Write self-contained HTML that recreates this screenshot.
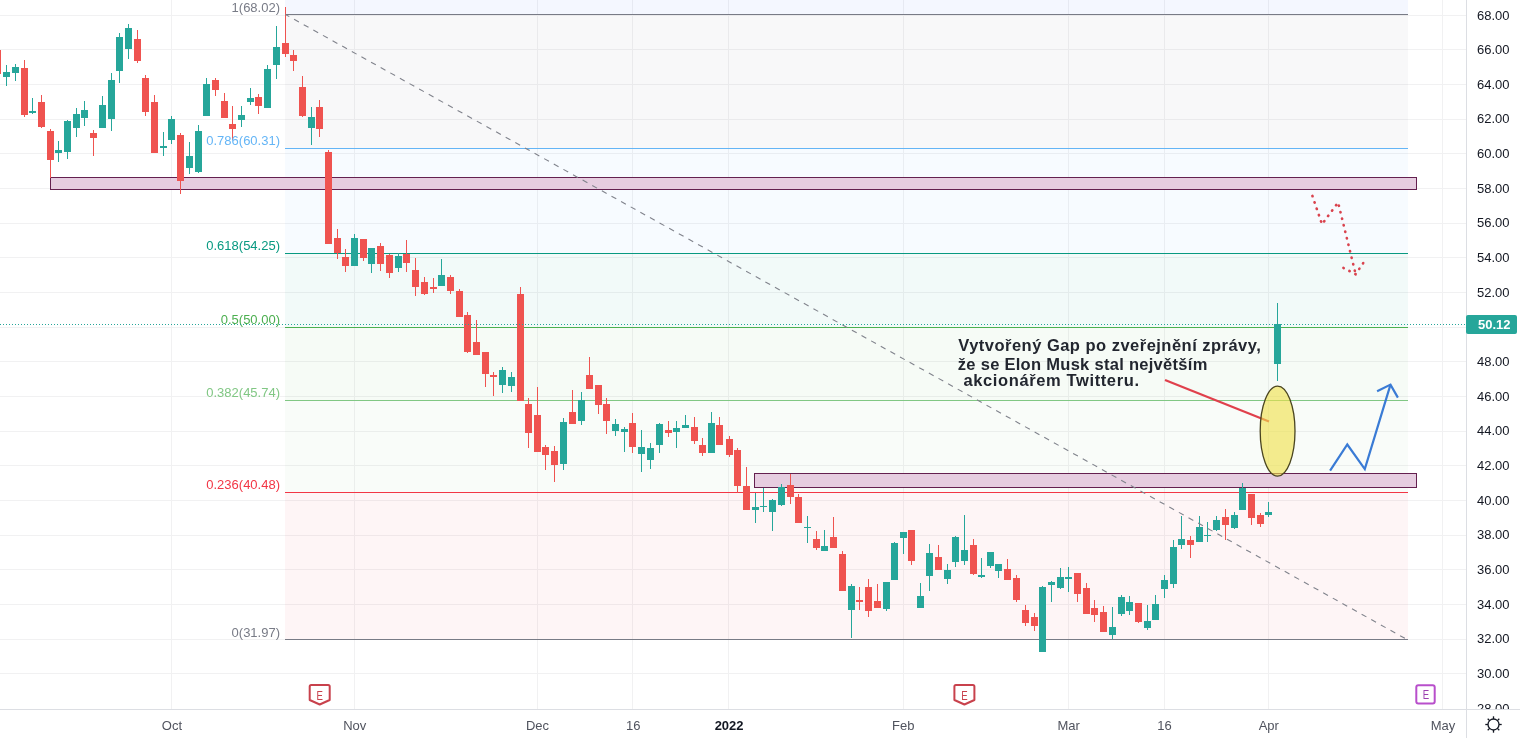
<!DOCTYPE html><html><head><meta charset="utf-8"><title>TWTR</title><style>
html,body{margin:0;padding:0;width:1520px;height:738px;overflow:hidden;background:#ffffff;}
svg{display:block;position:absolute;left:0;top:0;will-change:transform}
text{font-family:"Liberation Sans",sans-serif;}
</style></head><body>
<svg width="1520" height="738" viewBox="0 0 1520 738">
<rect x="0" y="0" width="1520" height="738" fill="#ffffff"/>
<g shape-rendering="crispEdges" fill="#f1f1f2">
<rect x="0" y="673" width="1466" height="1"/>
<rect x="0" y="639" width="1466" height="1"/>
<rect x="0" y="604" width="1466" height="1"/>
<rect x="0" y="569" width="1466" height="1"/>
<rect x="0" y="535" width="1466" height="1"/>
<rect x="0" y="500" width="1466" height="1"/>
<rect x="0" y="465" width="1466" height="1"/>
<rect x="0" y="431" width="1466" height="1"/>
<rect x="0" y="396" width="1466" height="1"/>
<rect x="0" y="361" width="1466" height="1"/>
<rect x="0" y="327" width="1466" height="1"/>
<rect x="0" y="292" width="1466" height="1"/>
<rect x="0" y="257" width="1466" height="1"/>
<rect x="0" y="223" width="1466" height="1"/>
<rect x="0" y="188" width="1466" height="1"/>
<rect x="0" y="153" width="1466" height="1"/>
<rect x="0" y="119" width="1466" height="1"/>
<rect x="0" y="84" width="1466" height="1"/>
<rect x="0" y="49" width="1466" height="1"/>
<rect x="0" y="15" width="1466" height="1"/>
<rect x="171" y="0" width="1" height="709"/>
<rect x="354" y="0" width="1" height="709"/>
<rect x="537" y="0" width="1" height="709"/>
<rect x="632" y="0" width="1" height="709"/>
<rect x="728" y="0" width="1" height="709"/>
<rect x="903" y="0" width="1" height="709"/>
<rect x="1068" y="0" width="1" height="709"/>
<rect x="1164" y="0" width="1" height="709"/>
<rect x="1268" y="0" width="1" height="709"/>
<rect x="1442" y="0" width="1" height="709"/>
</g>
<g shape-rendering="crispEdges">
<rect x="285" y="0" width="1123" height="14" fill="#2962ff" fill-opacity="0.05"/>
<rect x="285" y="14" width="1123" height="134" fill="#787b86" fill-opacity="0.05"/>
<rect x="285" y="148" width="1123" height="105" fill="#64b5f6" fill-opacity="0.05"/>
<rect x="285" y="253" width="1123" height="74" fill="#089981" fill-opacity="0.05"/>
<rect x="285" y="327" width="1123" height="73" fill="#4caf50" fill-opacity="0.05"/>
<rect x="285" y="400" width="1123" height="92" fill="#81c784" fill-opacity="0.05"/>
<rect x="285" y="492" width="1123" height="147" fill="#f23645" fill-opacity="0.05"/>
</g>
<rect x="50.5" y="177.5" width="1366" height="12" fill="#e6cde0" stroke="#64204f" stroke-width="1"/>
<rect x="754.5" y="473.5" width="662" height="14" fill="#e6cde0" stroke="#64204f" stroke-width="1"/>
<g shape-rendering="crispEdges">
<rect x="285" y="14" width="1123" height="1" fill="#787b86"/>
<rect x="285" y="148" width="1123" height="1" fill="#64b5f6"/>
<rect x="285" y="253" width="1123" height="1" fill="#089981"/>
<rect x="285" y="327" width="1123" height="1" fill="#4caf50"/>
<rect x="285" y="400" width="1123" height="1" fill="#81c784"/>
<rect x="285" y="492" width="1123" height="1" fill="#f23645"/>
<rect x="285" y="639" width="1123" height="1" fill="#787b86"/>
</g>
<g shape-rendering="crispEdges">
<rect x="-3" y="45" width="1" height="30" fill="#ef5350"/>
<rect x="-6" y="50" width="7" height="24" fill="#ef5350"/>
<rect x="6" y="65" width="1" height="21" fill="#26a69a"/>
<rect x="3" y="72" width="7" height="5" fill="#26a69a"/>
<rect x="15" y="64" width="1" height="17" fill="#26a69a"/>
<rect x="12" y="67" width="7" height="6" fill="#26a69a"/>
<rect x="24" y="60" width="1" height="57" fill="#ef5350"/>
<rect x="21" y="68" width="7" height="47" fill="#ef5350"/>
<rect x="32" y="98" width="1" height="16" fill="#26a69a"/>
<rect x="29" y="111" width="7" height="2" fill="#26a69a"/>
<rect x="41" y="95" width="1" height="33" fill="#ef5350"/>
<rect x="38" y="102" width="7" height="25" fill="#ef5350"/>
<rect x="50" y="129" width="1" height="49" fill="#ef5350"/>
<rect x="47" y="131" width="7" height="29" fill="#ef5350"/>
<rect x="58" y="141" width="1" height="21" fill="#26a69a"/>
<rect x="55" y="150" width="7" height="3" fill="#26a69a"/>
<rect x="67" y="120" width="1" height="39" fill="#26a69a"/>
<rect x="64" y="121" width="7" height="31" fill="#26a69a"/>
<rect x="76" y="108" width="1" height="29" fill="#26a69a"/>
<rect x="73" y="114" width="7" height="14" fill="#26a69a"/>
<rect x="84" y="101" width="1" height="25" fill="#26a69a"/>
<rect x="81" y="110" width="7" height="8" fill="#26a69a"/>
<rect x="93" y="130" width="1" height="26" fill="#ef5350"/>
<rect x="90" y="133" width="7" height="5" fill="#ef5350"/>
<rect x="102" y="96" width="1" height="32" fill="#26a69a"/>
<rect x="99" y="105" width="7" height="23" fill="#26a69a"/>
<rect x="111" y="73" width="1" height="58" fill="#26a69a"/>
<rect x="108" y="80" width="7" height="39" fill="#26a69a"/>
<rect x="119" y="33" width="1" height="50" fill="#26a69a"/>
<rect x="116" y="37" width="7" height="34" fill="#26a69a"/>
<rect x="128" y="24" width="1" height="35" fill="#26a69a"/>
<rect x="125" y="28" width="7" height="21" fill="#26a69a"/>
<rect x="137" y="30" width="1" height="33" fill="#ef5350"/>
<rect x="134" y="39" width="7" height="22" fill="#ef5350"/>
<rect x="145" y="75" width="1" height="41" fill="#ef5350"/>
<rect x="142" y="78" width="7" height="34" fill="#ef5350"/>
<rect x="154" y="95" width="1" height="58" fill="#ef5350"/>
<rect x="151" y="102" width="7" height="51" fill="#ef5350"/>
<rect x="163" y="132" width="1" height="24" fill="#26a69a"/>
<rect x="160" y="146" width="7" height="2" fill="#26a69a"/>
<rect x="171" y="116" width="1" height="28" fill="#26a69a"/>
<rect x="168" y="119" width="7" height="21" fill="#26a69a"/>
<rect x="180" y="133" width="1" height="61" fill="#ef5350"/>
<rect x="177" y="135" width="7" height="46" fill="#ef5350"/>
<rect x="189" y="142" width="1" height="32" fill="#26a69a"/>
<rect x="186" y="156" width="7" height="12" fill="#26a69a"/>
<rect x="198" y="125" width="1" height="48" fill="#26a69a"/>
<rect x="195" y="131" width="7" height="41" fill="#26a69a"/>
<rect x="206" y="78" width="1" height="38" fill="#26a69a"/>
<rect x="203" y="84" width="7" height="32" fill="#26a69a"/>
<rect x="215" y="78" width="1" height="18" fill="#ef5350"/>
<rect x="212" y="80" width="7" height="10" fill="#ef5350"/>
<rect x="224" y="93" width="1" height="25" fill="#ef5350"/>
<rect x="221" y="101" width="7" height="17" fill="#ef5350"/>
<rect x="232" y="106" width="1" height="34" fill="#ef5350"/>
<rect x="229" y="124" width="7" height="5" fill="#ef5350"/>
<rect x="241" y="106" width="1" height="21" fill="#26a69a"/>
<rect x="238" y="115" width="7" height="5" fill="#26a69a"/>
<rect x="250" y="88" width="1" height="17" fill="#26a69a"/>
<rect x="247" y="98" width="7" height="4" fill="#26a69a"/>
<rect x="258" y="94" width="1" height="20" fill="#ef5350"/>
<rect x="255" y="97" width="7" height="9" fill="#ef5350"/>
<rect x="267" y="65" width="1" height="43" fill="#26a69a"/>
<rect x="264" y="69" width="7" height="39" fill="#26a69a"/>
<rect x="276" y="26" width="1" height="53" fill="#26a69a"/>
<rect x="273" y="47" width="7" height="18" fill="#26a69a"/>
<rect x="285" y="7" width="1" height="50" fill="#ef5350"/>
<rect x="282" y="43" width="7" height="11" fill="#ef5350"/>
<rect x="293" y="50" width="1" height="21" fill="#ef5350"/>
<rect x="290" y="55" width="7" height="6" fill="#ef5350"/>
<rect x="302" y="76" width="1" height="41" fill="#ef5350"/>
<rect x="299" y="87" width="7" height="29" fill="#ef5350"/>
<rect x="311" y="107" width="1" height="38" fill="#26a69a"/>
<rect x="308" y="117" width="7" height="11" fill="#26a69a"/>
<rect x="319" y="100" width="1" height="37" fill="#ef5350"/>
<rect x="316" y="107" width="7" height="22" fill="#ef5350"/>
<rect x="328" y="150" width="1" height="94" fill="#ef5350"/>
<rect x="325" y="152" width="7" height="92" fill="#ef5350"/>
<rect x="337" y="229" width="1" height="30" fill="#ef5350"/>
<rect x="334" y="238" width="7" height="15" fill="#ef5350"/>
<rect x="345" y="249" width="1" height="23" fill="#ef5350"/>
<rect x="342" y="257" width="7" height="9" fill="#ef5350"/>
<rect x="354" y="234" width="1" height="32" fill="#26a69a"/>
<rect x="351" y="238" width="7" height="28" fill="#26a69a"/>
<rect x="363" y="239" width="1" height="22" fill="#ef5350"/>
<rect x="360" y="239" width="7" height="19" fill="#ef5350"/>
<rect x="371" y="248" width="1" height="25" fill="#26a69a"/>
<rect x="368" y="248" width="7" height="16" fill="#26a69a"/>
<rect x="380" y="243" width="1" height="28" fill="#ef5350"/>
<rect x="377" y="246" width="7" height="18" fill="#ef5350"/>
<rect x="389" y="254" width="1" height="24" fill="#ef5350"/>
<rect x="386" y="255" width="7" height="18" fill="#ef5350"/>
<rect x="398" y="253" width="1" height="19" fill="#26a69a"/>
<rect x="395" y="256" width="7" height="12" fill="#26a69a"/>
<rect x="406" y="240" width="1" height="32" fill="#ef5350"/>
<rect x="403" y="254" width="7" height="9" fill="#ef5350"/>
<rect x="415" y="258" width="1" height="38" fill="#ef5350"/>
<rect x="412" y="270" width="7" height="17" fill="#ef5350"/>
<rect x="424" y="277" width="1" height="18" fill="#ef5350"/>
<rect x="421" y="282" width="7" height="12" fill="#ef5350"/>
<rect x="433" y="278" width="1" height="15" fill="#ef5350"/>
<rect x="430" y="287" width="7" height="2" fill="#ef5350"/>
<rect x="441" y="259" width="1" height="27" fill="#26a69a"/>
<rect x="438" y="275" width="7" height="11" fill="#26a69a"/>
<rect x="450" y="275" width="1" height="19" fill="#ef5350"/>
<rect x="447" y="277" width="7" height="14" fill="#ef5350"/>
<rect x="459" y="289" width="1" height="28" fill="#ef5350"/>
<rect x="456" y="291" width="7" height="26" fill="#ef5350"/>
<rect x="467" y="312" width="1" height="41" fill="#ef5350"/>
<rect x="464" y="315" width="7" height="37" fill="#ef5350"/>
<rect x="476" y="320" width="1" height="35" fill="#ef5350"/>
<rect x="473" y="342" width="7" height="13" fill="#ef5350"/>
<rect x="485" y="352" width="1" height="35" fill="#ef5350"/>
<rect x="482" y="352" width="7" height="22" fill="#ef5350"/>
<rect x="493" y="372" width="1" height="24" fill="#ef5350"/>
<rect x="490" y="375" width="7" height="2" fill="#ef5350"/>
<rect x="502" y="367" width="1" height="26" fill="#26a69a"/>
<rect x="499" y="370" width="7" height="15" fill="#26a69a"/>
<rect x="511" y="372" width="1" height="20" fill="#26a69a"/>
<rect x="508" y="377" width="7" height="9" fill="#26a69a"/>
<rect x="520" y="287" width="1" height="114" fill="#ef5350"/>
<rect x="517" y="294" width="7" height="107" fill="#ef5350"/>
<rect x="528" y="398" width="1" height="50" fill="#ef5350"/>
<rect x="525" y="404" width="7" height="29" fill="#ef5350"/>
<rect x="537" y="387" width="1" height="65" fill="#ef5350"/>
<rect x="534" y="415" width="7" height="37" fill="#ef5350"/>
<rect x="545" y="445" width="1" height="25" fill="#ef5350"/>
<rect x="542" y="447" width="7" height="8" fill="#ef5350"/>
<rect x="554" y="446" width="1" height="36" fill="#ef5350"/>
<rect x="551" y="451" width="7" height="14" fill="#ef5350"/>
<rect x="563" y="418" width="1" height="52" fill="#26a69a"/>
<rect x="560" y="422" width="7" height="42" fill="#26a69a"/>
<rect x="572" y="390" width="1" height="34" fill="#ef5350"/>
<rect x="569" y="412" width="7" height="12" fill="#ef5350"/>
<rect x="581" y="392" width="1" height="33" fill="#26a69a"/>
<rect x="578" y="400" width="7" height="21" fill="#26a69a"/>
<rect x="589" y="357" width="1" height="32" fill="#ef5350"/>
<rect x="586" y="375" width="7" height="14" fill="#ef5350"/>
<rect x="598" y="385" width="1" height="29" fill="#ef5350"/>
<rect x="595" y="385" width="7" height="20" fill="#ef5350"/>
<rect x="606" y="398" width="1" height="36" fill="#ef5350"/>
<rect x="603" y="404" width="7" height="17" fill="#ef5350"/>
<rect x="615" y="419" width="1" height="17" fill="#26a69a"/>
<rect x="612" y="424" width="7" height="7" fill="#26a69a"/>
<rect x="624" y="427" width="1" height="25" fill="#26a69a"/>
<rect x="621" y="429" width="7" height="3" fill="#26a69a"/>
<rect x="632" y="413" width="1" height="40" fill="#ef5350"/>
<rect x="629" y="423" width="7" height="24" fill="#ef5350"/>
<rect x="641" y="430" width="1" height="42" fill="#26a69a"/>
<rect x="638" y="447" width="7" height="7" fill="#26a69a"/>
<rect x="650" y="443" width="1" height="26" fill="#26a69a"/>
<rect x="647" y="448" width="7" height="12" fill="#26a69a"/>
<rect x="659" y="423" width="1" height="30" fill="#26a69a"/>
<rect x="656" y="424" width="7" height="21" fill="#26a69a"/>
<rect x="668" y="421" width="1" height="16" fill="#ef5350"/>
<rect x="665" y="430" width="7" height="3" fill="#ef5350"/>
<rect x="676" y="421" width="1" height="27" fill="#26a69a"/>
<rect x="673" y="428" width="7" height="4" fill="#26a69a"/>
<rect x="685" y="415" width="1" height="13" fill="#26a69a"/>
<rect x="682" y="425" width="7" height="3" fill="#26a69a"/>
<rect x="694" y="417" width="1" height="27" fill="#ef5350"/>
<rect x="691" y="427" width="7" height="14" fill="#ef5350"/>
<rect x="702" y="438" width="1" height="18" fill="#ef5350"/>
<rect x="699" y="445" width="7" height="8" fill="#ef5350"/>
<rect x="711" y="412" width="1" height="41" fill="#26a69a"/>
<rect x="708" y="423" width="7" height="30" fill="#26a69a"/>
<rect x="719" y="417" width="1" height="28" fill="#ef5350"/>
<rect x="716" y="425" width="7" height="20" fill="#ef5350"/>
<rect x="729" y="436" width="1" height="21" fill="#ef5350"/>
<rect x="726" y="439" width="7" height="16" fill="#ef5350"/>
<rect x="737" y="448" width="1" height="45" fill="#ef5350"/>
<rect x="734" y="450" width="7" height="36" fill="#ef5350"/>
<rect x="746" y="467" width="1" height="43" fill="#ef5350"/>
<rect x="743" y="486" width="7" height="24" fill="#ef5350"/>
<rect x="755" y="493" width="1" height="30" fill="#26a69a"/>
<rect x="752" y="507" width="7" height="3" fill="#26a69a"/>
<rect x="763" y="488" width="1" height="24" fill="#26a69a"/>
<rect x="760" y="506" width="7" height="1" fill="#26a69a"/>
<rect x="772" y="499" width="1" height="32" fill="#26a69a"/>
<rect x="769" y="500" width="7" height="12" fill="#26a69a"/>
<rect x="781" y="484" width="1" height="22" fill="#26a69a"/>
<rect x="778" y="487" width="7" height="18" fill="#26a69a"/>
<rect x="790" y="474" width="1" height="30" fill="#ef5350"/>
<rect x="787" y="485" width="7" height="12" fill="#ef5350"/>
<rect x="798" y="494" width="1" height="29" fill="#ef5350"/>
<rect x="795" y="497" width="7" height="26" fill="#ef5350"/>
<rect x="807" y="516" width="1" height="27" fill="#26a69a"/>
<rect x="804" y="527" width="7" height="1" fill="#26a69a"/>
<rect x="816" y="531" width="1" height="19" fill="#ef5350"/>
<rect x="813" y="539" width="7" height="9" fill="#ef5350"/>
<rect x="824" y="530" width="1" height="21" fill="#26a69a"/>
<rect x="821" y="546" width="7" height="5" fill="#26a69a"/>
<rect x="833" y="517" width="1" height="31" fill="#ef5350"/>
<rect x="830" y="537" width="7" height="11" fill="#ef5350"/>
<rect x="842" y="551" width="1" height="40" fill="#ef5350"/>
<rect x="839" y="554" width="7" height="37" fill="#ef5350"/>
<rect x="851" y="584" width="1" height="54" fill="#26a69a"/>
<rect x="848" y="586" width="7" height="24" fill="#26a69a"/>
<rect x="859" y="587" width="1" height="23" fill="#ef5350"/>
<rect x="856" y="600" width="7" height="2" fill="#ef5350"/>
<rect x="868" y="579" width="1" height="38" fill="#ef5350"/>
<rect x="865" y="587" width="7" height="24" fill="#ef5350"/>
<rect x="877" y="584" width="1" height="24" fill="#ef5350"/>
<rect x="874" y="601" width="7" height="7" fill="#ef5350"/>
<rect x="886" y="582" width="1" height="29" fill="#26a69a"/>
<rect x="883" y="582" width="7" height="27" fill="#26a69a"/>
<rect x="894" y="542" width="1" height="38" fill="#26a69a"/>
<rect x="891" y="543" width="7" height="37" fill="#26a69a"/>
<rect x="903" y="532" width="1" height="22" fill="#26a69a"/>
<rect x="900" y="532" width="7" height="6" fill="#26a69a"/>
<rect x="911" y="530" width="1" height="35" fill="#ef5350"/>
<rect x="908" y="530" width="7" height="31" fill="#ef5350"/>
<rect x="920" y="583" width="1" height="25" fill="#26a69a"/>
<rect x="917" y="596" width="7" height="12" fill="#26a69a"/>
<rect x="929" y="544" width="1" height="47" fill="#26a69a"/>
<rect x="926" y="553" width="7" height="23" fill="#26a69a"/>
<rect x="938" y="545" width="1" height="25" fill="#ef5350"/>
<rect x="935" y="557" width="7" height="13" fill="#ef5350"/>
<rect x="947" y="564" width="1" height="20" fill="#26a69a"/>
<rect x="944" y="570" width="7" height="9" fill="#26a69a"/>
<rect x="955" y="536" width="1" height="31" fill="#26a69a"/>
<rect x="952" y="537" width="7" height="25" fill="#26a69a"/>
<rect x="964" y="515" width="1" height="50" fill="#26a69a"/>
<rect x="961" y="550" width="7" height="11" fill="#26a69a"/>
<rect x="973" y="539" width="1" height="36" fill="#ef5350"/>
<rect x="970" y="545" width="7" height="29" fill="#ef5350"/>
<rect x="981" y="558" width="1" height="20" fill="#26a69a"/>
<rect x="978" y="575" width="7" height="2" fill="#26a69a"/>
<rect x="990" y="552" width="1" height="16" fill="#26a69a"/>
<rect x="987" y="552" width="7" height="14" fill="#26a69a"/>
<rect x="998" y="564" width="1" height="14" fill="#26a69a"/>
<rect x="995" y="564" width="7" height="7" fill="#26a69a"/>
<rect x="1007" y="559" width="1" height="21" fill="#ef5350"/>
<rect x="1004" y="569" width="7" height="11" fill="#ef5350"/>
<rect x="1016" y="575" width="1" height="27" fill="#ef5350"/>
<rect x="1013" y="578" width="7" height="22" fill="#ef5350"/>
<rect x="1025" y="605" width="1" height="21" fill="#ef5350"/>
<rect x="1022" y="610" width="7" height="13" fill="#ef5350"/>
<rect x="1034" y="613" width="1" height="18" fill="#ef5350"/>
<rect x="1031" y="617" width="7" height="9" fill="#ef5350"/>
<rect x="1042" y="586" width="1" height="66" fill="#26a69a"/>
<rect x="1039" y="587" width="7" height="65" fill="#26a69a"/>
<rect x="1051" y="581" width="1" height="21" fill="#26a69a"/>
<rect x="1048" y="582" width="7" height="3" fill="#26a69a"/>
<rect x="1060" y="568" width="1" height="21" fill="#26a69a"/>
<rect x="1057" y="577" width="7" height="11" fill="#26a69a"/>
<rect x="1068" y="567" width="1" height="25" fill="#26a69a"/>
<rect x="1065" y="577" width="7" height="2" fill="#26a69a"/>
<rect x="1077" y="573" width="1" height="29" fill="#ef5350"/>
<rect x="1074" y="573" width="7" height="21" fill="#ef5350"/>
<rect x="1086" y="583" width="1" height="31" fill="#ef5350"/>
<rect x="1083" y="588" width="7" height="26" fill="#ef5350"/>
<rect x="1094" y="600" width="1" height="22" fill="#ef5350"/>
<rect x="1091" y="608" width="7" height="7" fill="#ef5350"/>
<rect x="1103" y="606" width="1" height="26" fill="#ef5350"/>
<rect x="1100" y="612" width="7" height="20" fill="#ef5350"/>
<rect x="1112" y="607" width="1" height="32" fill="#26a69a"/>
<rect x="1109" y="627" width="7" height="8" fill="#26a69a"/>
<rect x="1121" y="595" width="1" height="21" fill="#26a69a"/>
<rect x="1118" y="597" width="7" height="17" fill="#26a69a"/>
<rect x="1129" y="596" width="1" height="19" fill="#26a69a"/>
<rect x="1126" y="602" width="7" height="9" fill="#26a69a"/>
<rect x="1138" y="603" width="1" height="20" fill="#ef5350"/>
<rect x="1135" y="603" width="7" height="19" fill="#ef5350"/>
<rect x="1147" y="605" width="1" height="25" fill="#26a69a"/>
<rect x="1144" y="621" width="7" height="7" fill="#26a69a"/>
<rect x="1155" y="595" width="1" height="25" fill="#26a69a"/>
<rect x="1152" y="604" width="7" height="16" fill="#26a69a"/>
<rect x="1164" y="575" width="1" height="23" fill="#26a69a"/>
<rect x="1161" y="580" width="7" height="9" fill="#26a69a"/>
<rect x="1173" y="540" width="1" height="48" fill="#26a69a"/>
<rect x="1170" y="547" width="7" height="37" fill="#26a69a"/>
<rect x="1181" y="516" width="1" height="33" fill="#26a69a"/>
<rect x="1178" y="539" width="7" height="6" fill="#26a69a"/>
<rect x="1190" y="536" width="1" height="22" fill="#ef5350"/>
<rect x="1187" y="540" width="7" height="5" fill="#ef5350"/>
<rect x="1199" y="516" width="1" height="26" fill="#26a69a"/>
<rect x="1196" y="527" width="7" height="15" fill="#26a69a"/>
<rect x="1207" y="522" width="1" height="20" fill="#26a69a"/>
<rect x="1204" y="535" width="7" height="1" fill="#26a69a"/>
<rect x="1216" y="516" width="1" height="15" fill="#26a69a"/>
<rect x="1213" y="520" width="7" height="10" fill="#26a69a"/>
<rect x="1225" y="509" width="1" height="31" fill="#ef5350"/>
<rect x="1222" y="517" width="7" height="8" fill="#ef5350"/>
<rect x="1234" y="512" width="1" height="17" fill="#26a69a"/>
<rect x="1231" y="515" width="7" height="13" fill="#26a69a"/>
<rect x="1242" y="483" width="1" height="27" fill="#26a69a"/>
<rect x="1239" y="488" width="7" height="22" fill="#26a69a"/>
<rect x="1251" y="494" width="1" height="31" fill="#ef5350"/>
<rect x="1248" y="494" width="7" height="24" fill="#ef5350"/>
<rect x="1260" y="513" width="1" height="14" fill="#ef5350"/>
<rect x="1257" y="515" width="7" height="9" fill="#ef5350"/>
<rect x="1268" y="502" width="1" height="15" fill="#26a69a"/>
<rect x="1265" y="512" width="7" height="3" fill="#26a69a"/>
<rect x="1277" y="303" width="1" height="78" fill="#26a69a"/>
<rect x="1274" y="324" width="7" height="40" fill="#26a69a"/>
</g>
<g font-size="13" text-anchor="end">
<text x="280" y="12" fill="#787b86">1(68.02)</text>
<text x="280" y="145" fill="#64b5f6">0.786(60.31)</text>
<text x="280" y="250" fill="#089981">0.618(54.25)</text>
<text x="280" y="324" fill="#4caf50">0.5(50.00)</text>
<text x="280" y="397" fill="#81c784">0.382(45.74)</text>
<text x="280" y="489" fill="#f23645">0.236(40.48)</text>
<text x="280" y="637" fill="#787b86">0(31.97)</text>
</g>
<line x1="285.5" y1="14.5" x2="1407" y2="639.5" stroke="#80838c" stroke-width="1.1" stroke-dasharray="5.5 5.51" stroke-dashoffset="1.17"/>
<line x1="0" y1="324.5" x2="1466" y2="324.5" stroke="#26a69a" stroke-width="1" stroke-dasharray="1 2"/>
<g font-size="16.5" font-weight="bold" fill="#22262f"><text x="958.3" y="351" textLength="302.5" lengthAdjust="spacing">Vytvořený Gap po zveřejnění zprávy,</text><text x="957.8" y="369.8" textLength="249.5" lengthAdjust="spacing">že se Elon Musk stal největším</text><text x="963.4" y="386.2" textLength="175.6" lengthAdjust="spacing">akcionářem Twitteru.</text></g>
<line x1="1165" y1="380" x2="1269" y2="421.5" stroke="#e0404c" stroke-width="2.2"/>
<ellipse cx="1277.6" cy="431.1" rx="17.4" ry="45" fill="#efe04a" fill-opacity="0.62" stroke="#4a4520" stroke-width="1.3"/>
<g fill="none" stroke="#3a7bd5" stroke-width="2.2" stroke-linejoin="miter"><polyline points="1330.1,470.6 1347.3,444.5 1364.8,469.1 1390.5,384.6"/><polyline points="1377.1,391.3 1390.5,384.6 1397.9,397.6"/></g>
<g fill="none" stroke="#d9434e" stroke-width="2.6" stroke-dasharray="0.4 6.3" stroke-linecap="round"><polyline points="1312.4,195.9 1322,224.3 1338.1,202.4 1355.6,273.9"/><polyline points="1343.4,267.9 1355.6,274.2 1363.5,262.7"/></g>
<path d="M311.2,685 H328.2 Q329.7,685 329.7,686.5 V700 L319.7,704.5 L309.7,700 V686.5 Q309.7,685 311.2,685 Z" fill="#ffffff" stroke="#c8414c" stroke-width="2" stroke-linejoin="round"/><text x="319.7" y="700" font-size="13" text-anchor="middle" fill="#c8414c" textLength="6.4" lengthAdjust="spacingAndGlyphs">E</text>
<path d="M955.9,685 H972.9 Q974.4,685 974.4,686.5 V700 L964.4,704.5 L954.4,700 V686.5 Q954.4,685 955.9,685 Z" fill="#ffffff" stroke="#c8414c" stroke-width="2" stroke-linejoin="round"/><text x="964.4" y="700" font-size="13" text-anchor="middle" fill="#c8414c" textLength="6.4" lengthAdjust="spacingAndGlyphs">E</text>
<rect x="1416.3" y="685.2" width="18.4" height="18.4" rx="2" fill="#ffffff" stroke="#b84fcb" stroke-width="2"/><text x="1425.9" y="699" font-size="13" text-anchor="middle" fill="#9b3fb0" textLength="6.4" lengthAdjust="spacingAndGlyphs">E</text>
<rect x="1466" y="0" width="54" height="709" fill="#ffffff" shape-rendering="crispEdges"/>
<g font-size="13" fill="#131722">
<text x="1477" y="712.5">28.00</text>
<text x="1477" y="677.9">30.00</text>
<text x="1477" y="643.2">32.00</text>
<text x="1477" y="608.5">34.00</text>
<text x="1477" y="573.9">36.00</text>
<text x="1477" y="539.2">38.00</text>
<text x="1477" y="504.6">40.00</text>
<text x="1477" y="469.9">42.00</text>
<text x="1477" y="435.3">44.00</text>
<text x="1477" y="400.6">46.00</text>
<text x="1477" y="366.0">48.00</text>
<text x="1477" y="331.3">50.00</text>
<text x="1477" y="296.7">52.00</text>
<text x="1477" y="262.0">54.00</text>
<text x="1477" y="227.4">56.00</text>
<text x="1477" y="192.8">58.00</text>
<text x="1477" y="158.1">60.00</text>
<text x="1477" y="123.4">62.00</text>
<text x="1477" y="88.8">64.00</text>
<text x="1477" y="54.2">66.00</text>
<text x="1477" y="19.5">68.00</text>
</g>
<g shape-rendering="crispEdges">
<rect x="0" y="710" width="1520" height="28" fill="#ffffff"/>
<rect x="1466" y="0" width="1" height="738" fill="#dcdee3"/>
<rect x="0" y="709" width="1520" height="1" fill="#dcdee3"/>
</g>
<rect x="1466" y="315" width="51" height="19" rx="2" fill="#26a69a"/><text x="1478" y="329" font-size="13" font-weight="bold" fill="#ffffff">50.12</text>
<g font-size="13" fill="#50535e" text-anchor="middle">
<text x="171.9" y="730">Oct</text>
<text x="354.7" y="730">Nov</text>
<text x="537.5" y="730">Dec</text>
<text x="633.3" y="730">16</text>
<text x="903.2" y="730">Feb</text>
<text x="1068.6" y="730">Mar</text>
<text x="1164.4" y="730">16</text>
<text x="1268.8" y="730">Apr</text>
<text x="1443.0" y="730">May</text>
<text x="729.1" y="730" font-weight="bold" fill="#131722">2022</text>
</g>
<g transform="translate(1493.5,724.5)" stroke="#131722" fill="none" stroke-width="1.3">
<circle r="5.5"/>
<line x1="5.50" y1="0.00" x2="8.20" y2="0.00"/>
<line x1="3.89" y1="3.89" x2="5.80" y2="5.80"/>
<line x1="0.00" y1="5.50" x2="0.00" y2="8.20"/>
<line x1="-3.89" y1="3.89" x2="-5.80" y2="5.80"/>
<line x1="-5.50" y1="0.00" x2="-8.20" y2="0.00"/>
<line x1="-3.89" y1="-3.89" x2="-5.80" y2="-5.80"/>
<line x1="-0.00" y1="-5.50" x2="-0.00" y2="-8.20"/>
<line x1="3.89" y1="-3.89" x2="5.80" y2="-5.80"/>
</g>
</svg></body></html>
